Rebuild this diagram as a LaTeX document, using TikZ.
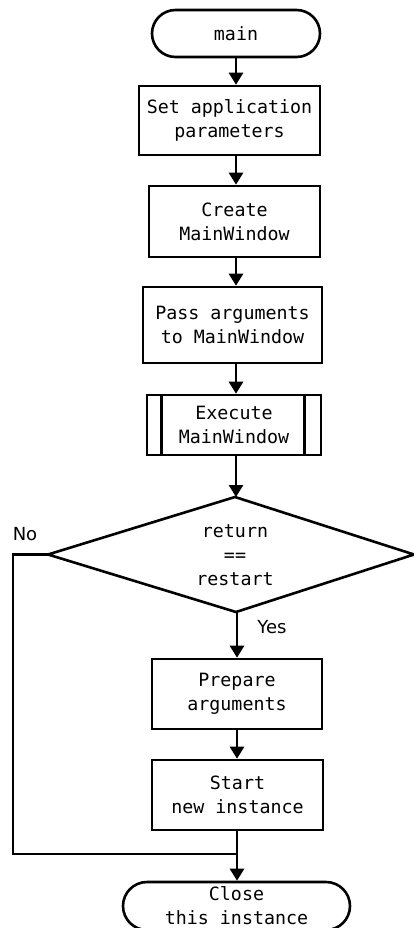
\documentclass[tikz,border=0pt]{standalone}
\usepackage{fontspec}
\setmonofont{DejaVu Sans Mono}
\newfontfamily\labelfont{DejaVu Sans}
\usetikzlibrary{arrows.meta,shapes.misc}
\begin{document}
\begin{tikzpicture}[x=1pt,y=-1pt,
  every node/.style={font=\ttfamily\fontsize{18.3}{24}\selectfont, align=center, inner sep=0pt},
  box/.style={draw, line width=2.6pt, rectangle},
  term/.style={draw, line width=2.6pt, rounded rectangle},
  flow/.style={line width=2.6pt, -{Triangle[length=12pt,width=14pt]}},
  line/.style={line width=2.6pt},
  tag/.style={font=\labelfont\fontsize{18}{20}\selectfont}]
\useasboundingbox (0,0) rectangle (414,928);
\begin{scope}
\clip (0,0) rectangle (414,928);

\node[term, minimum width=168pt, minimum height=47pt] (main) at (236,33.5) {main};
\node[box, minimum width=181pt, minimum height=69pt] (setp) at (229.5,120.5) {Set application\\parameters};
\node[box, minimum width=171pt, minimum height=71pt] (create) at (234.5,221.5) {Create\\MainWindow};
\node[box, minimum width=179pt, minimum height=76pt] (pass) at (232.5,325) {Pass arguments\\to MainWindow};
\node[box, minimum width=174pt, minimum height=60pt] (exec) at (234,425) {Execute\\MainWindow};
\draw[line] ([xshift=16pt]exec.north west) -- ([xshift=16pt]exec.south west);
\draw[line] ([xshift=-18pt]exec.north east) -- ([xshift=-18pt]exec.south east);

% decision: outline drawn through its four corners
\coordinate (dtop) at (235,497);
\coordinate (dleft) at (48,554.5);
\coordinate (dright) at (414,554.5);
\coordinate (dbot) at (236,612);
\draw[line, line join=miter] (dtop) -- (dright) -- (dbot) -- (dleft) -- cycle;
\node (test) at (235,555) {return\\==\\restart};

\node[box, minimum width=170pt, minimum height=70pt] (prep) at (237,694) {Prepare\\arguments};
\node[box, minimum width=171pt, minimum height=70pt] (start) at (237.5,795) {Start\\new instance};
\node[term, minimum width=227pt, minimum height=48pt] (close) at (236.5,906) {Close\\this instance};

\coordinate (col) at (236,0);
\coordinate (back) at (13,0);
\coordinate (join) at (237,854);

\draw[flow] (main.south) -- (main.south |- setp.north);
\draw[flow] (setp.south -| col) -- (col |- create.north);
\draw[flow] (create.south -| col) -- (col |- pass.north);
\draw[flow] (pass.south -| col) -- (col |- exec.north);
\draw[flow] (exec.south -| col) -- (col |- dtop);
\draw[flow] (dbot -| join) -- (join |- prep.north);
\draw[flow] (prep.south -| join) -- (join |- start.north);
\draw[flow] (start.south -| join) -- (join |- close.north);
\draw[line] (dleft) -- (back |- dleft) -- (back |- join) -- (join);

\node[tag] (no) at (25,534) {No};
\node[tag] (yes) at (272,627) {Yes};
\end{scope}
\end{tikzpicture}
\end{document}
